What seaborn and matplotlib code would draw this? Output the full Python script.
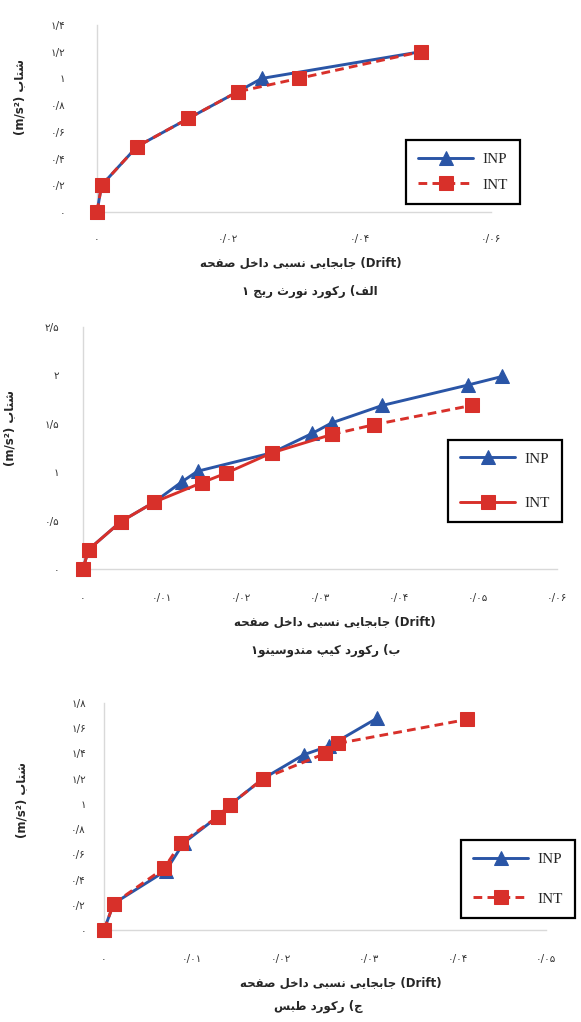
import matplotlib
matplotlib.use("Agg")
import matplotlib.pyplot as plt
import seaborn as sns

# ---------------- data ----------------
# (a) Northridge record
nr_inp_drift = [0, 0.0007, 0.0061, 0.0139, 0.0214, 0.0251, 0.0493]
nr_inp_acc = [0, 0.20, 0.49, 0.70, 0.90, 1.00, 1.20]
nr_int_drift = [0, 0.0007, 0.0061, 0.0139, 0.0214, 0.0307, 0.0493]
nr_int_acc = [0, 0.20, 0.49, 0.70, 0.90, 1.00, 1.20]

# (b) Cape Mendocino record
cm_inp_drift = [0, 0.0007, 0.0048, 0.0090, 0.0125, 0.0145, 0.0239, 0.0290, 0.0315, 0.0379, 0.0487, 0.0531]
cm_inp_acc = [0, 0.20, 0.49, 0.69, 0.90, 1.01, 1.20, 1.40, 1.51, 1.69, 1.90, 1.99]
cm_int_drift = [0, 0.0007, 0.0048, 0.0090, 0.0150, 0.0181, 0.0239, 0.0315, 0.0368, 0.0492]
cm_int_acc = [0, 0.20, 0.49, 0.69, 0.89, 0.99, 1.20, 1.39, 1.49, 1.69]

# (c) Tabas record
tb_inp_drift = [0, 0.0011, 0.0070, 0.0090, 0.0129, 0.0142, 0.0180, 0.0226, 0.0255, 0.0309]
tb_inp_acc = [0, 0.21, 0.47, 0.69, 0.90, 0.99, 1.20, 1.39, 1.46, 1.68]
tb_int_drift = [0, 0.0011, 0.0068, 0.0087, 0.0129, 0.0142, 0.0180, 0.0250, 0.0265, 0.0411]
tb_int_acc = [0, 0.21, 0.49, 0.69, 0.90, 0.99, 1.20, 1.40, 1.48, 1.67]

nr_xticks = [0, 0.02, 0.04, 0.06]
nr_yticks = [0, 0.2, 0.4, 0.6, 0.8, 1, 1.2, 1.4]
cm_xticks = [0, 0.01, 0.02, 0.03, 0.04, 0.05, 0.06]
cm_yticks = [0, 0.5, 1, 1.5, 2, 2.5]
tb_xticks = [0, 0.01, 0.02, 0.03, 0.04, 0.05]
tb_yticks = [0, 0.2, 0.4, 0.6, 0.8, 1, 1.2, 1.4, 1.6, 1.8]

xlabel_fa = "جابجایی نسبی داخل صفحه"
ylabel_fa = "شتاب"
captions = ["الف) رکورد نورث ریج ۱", "ب) رکورد کیپ مندوسینو۱", "ج) رکورد طبس"]

# ---------------- Persian shaping helpers ----------------
# isolated, final, initial, medial presentation forms
FORMS = {
    "ا": ("\uFE8D", "\uFE8E", None, None),
    "ب": ("\uFE8F", "\uFE90", "\uFE91", "\uFE92"),
    "پ": ("\uFB56", "\uFB57", "\uFB58", "\uFB59"),
    "ت": ("\uFE95", "\uFE96", "\uFE97", "\uFE98"),
    "ث": ("\uFE99", "\uFE9A", "\uFE9B", "\uFE9C"),
    "ج": ("\uFE9D", "\uFE9E", "\uFE9F", "\uFEA0"),
    "ح": ("\uFEA1", "\uFEA2", "\uFEA3", "\uFEA4"),
    "خ": ("\uFEA5", "\uFEA6", "\uFEA7", "\uFEA8"),
    "د": ("\uFEA9", "\uFEAA", None, None),
    "ر": ("\uFEAD", "\uFEAE", None, None),
    "ز": ("\uFEAF", "\uFEB0", None, None),
    "س": ("\uFEB1", "\uFEB2", "\uFEB3", "\uFEB4"),
    "ش": ("\uFEB5", "\uFEB6", "\uFEB7", "\uFEB8"),
    "ص": ("\uFEB9", "\uFEBA", "\uFEBB", "\uFEBC"),
    "ط": ("\uFEC1", "\uFEC2", "\uFEC3", "\uFEC4"),
    "ف": ("\uFED1", "\uFED2", "\uFED3", "\uFED4"),
    "ک": ("\uFB8E", "\uFB8F", "\uFB90", "\uFB91"),
    "گ": ("\uFB92", "\uFB93", "\uFB94", "\uFB95"),
    "ل": ("\uFEDD", "\uFEDE", "\uFEDF", "\uFEE0"),
    "م": ("\uFEE1", "\uFEE2", "\uFEE3", "\uFEE4"),
    "ن": ("\uFEE5", "\uFEE6", "\uFEE7", "\uFEE8"),
    "و": ("\uFEED", "\uFEEE", None, None),
    "ه": ("\uFEE9", "\uFEEA", "\uFEEB", "\uFEEC"),
    "ی": ("\uFBFC", "\uFBFD", "\uFBFE", "\uFBFF"),
}
MIRROR = {"(": ")", ")": "("}


def shape_rtl(text):
    """Contextual letter forms, then the whole run laid out right-to-left."""
    out = []
    n = len(text)
    for i, ch in enumerate(text):
        if ch not in FORMS:
            out.append(MIRROR.get(ch, ch))
            continue
        iso, fin, ini, med = FORMS[ch]
        prev = text[i - 1] if i > 0 else None
        nxt = text[i + 1] if i < n - 1 else None
        join_prev = prev in FORMS and FORMS[prev][2] is not None
        join_next = ini is not None and nxt in FORMS
        if join_prev and join_next:
            out.append(med)
        elif join_prev:
            out.append(fin)
        elif join_next:
            out.append(ini)
        else:
            out.append(iso)
    return "".join(reversed(out))


FA_DIGITS = str.maketrans("0123456789", "۰۱۲۳۴۵۶۷۸۹")


def fa_num(v):
    s = f"{v:g}".replace(".", "/")
    return s.translate(FA_DIGITS)


# ---------------- figure ----------------
sns.set_theme(style="white")
plt.rcParams["font.family"] = ["DejaVu Sans"]

W, H = 581, 1022
fig = plt.figure(figsize=(W / 100, H / 100), dpi=100)
fig.patch.set_facecolor("white")

BLUE = "#2A55A6"
RED = "#D8302A"
AXIS_GRAY = "#D9D9D9"


def px_axes(x0, x1, y_bottom, y_top):
    return fig.add_axes([x0 / W, 1 - y_bottom / H, (x1 - x0) / W, (y_bottom - y_top) / H])


def style_axes(ax, xticks, yticks, xpad, ypad):
    ax.set_xlim(xticks[0], xticks[-1])
    ax.set_ylim(yticks[0], yticks[-1])
    ax.set_xticks(xticks)
    ax.set_yticks(yticks)
    ax.set_xticklabels([fa_num(v) for v in xticks])
    ax.set_yticklabels([fa_num(v) for v in yticks])
    ax.tick_params(axis="x", length=0, pad=xpad, labelsize=7.5, colors="#333333")
    ax.tick_params(axis="y", length=0, pad=ypad, labelsize=7.5, colors="#333333")
    for s in ["top", "right"]:
        ax.spines[s].set_visible(False)
    for s in ["left", "bottom"]:
        ax.spines[s].set_color(AXIS_GRAY)
        ax.spines[s].set_linewidth(1.0)
        ax.spines[s].set_zorder(0)
    ax.set_xlabel("")
    ax.set_ylabel("")
    ax.patch.set_alpha(0)


def draw_inp(ax, x, y):
    sns.lineplot(x=x, y=y, ax=ax, color=BLUE, linewidth=2.1, marker="^",
                 markersize=10, markeredgecolor=BLUE, estimator=None, sort=False,
                 label="INP", clip_on=False, zorder=3)


def draw_int(ax, x, y, dashed=True, label=True):
    sns.lineplot(x=x, y=y, ax=ax, color=RED, linewidth=2.1, marker="s",
                 markersize=10.5, markeredgecolor=RED, estimator=None, sort=False,
                 linestyle=(0, (3.0, 1.8)) if dashed else "-",
                 label="INT" if label else None, clip_on=False, zorder=4)


def place_legend(ax, cx, cy, spacing):
    handles, labels = ax.get_legend_handles_labels()
    leg = ax.legend(handles, labels, loc="center",
                    bbox_to_anchor=(cx / W, 1 - cy / H), bbox_transform=fig.transFigure,
                    frameon=True, fancybox=False, framealpha=1, edgecolor="black",
                    prop={"family": "Liberation Serif", "size": 11},
                    handlelength=3.6, handletextpad=0.6, labelspacing=spacing,
                    borderpad=0.8)
    leg.get_frame().set_linewidth(1.6)
    return leg


def fig_text(x, y, s, size, **kw):
    fig.text(x / W, 1 - y / H, s, ha="center", va="center", fontsize=size, **kw)


xlabel_text = shape_rtl(xlabel_fa) + " (Drift)"
ylabel_text = "(m/s²) " + shape_rtl(ylabel_fa)

# ---- (a) ----
ax1 = px_axes(97, 491, 212, 25)
draw_inp(ax1, nr_inp_drift, nr_inp_acc)
draw_int(ax1, nr_int_drift, nr_int_acc, dashed=True)
style_axes(ax1, nr_xticks, nr_yticks, xpad=16, ypad=23)
place_legend(ax1, 463, 172, 0.8)
fig_text(301, 263, xlabel_text, 8.5, fontweight="bold")
fig_text(310, 291, shape_rtl(captions[0]), 8.5, fontweight="bold")
fig_text(20, 97, ylabel_text, 8.5, rotation=90, fontweight="bold")

# ---- (b) ----
ax2 = px_axes(83, 557, 569, 327)
draw_inp(ax2, cm_inp_drift, cm_inp_acc)
draw_int(ax2, cm_int_drift[:8], cm_int_acc[:8], dashed=False)
draw_int(ax2, cm_int_drift[7:], cm_int_acc[7:], dashed=True, label=False)
style_axes(ax2, cm_xticks, cm_yticks, xpad=17, ypad=17)
place_legend(ax2, 505, 481, 2.0)
fig_text(335, 622, xlabel_text, 8.5, fontweight="bold")
fig_text(326, 650, shape_rtl(captions[1]), 8.5, fontweight="bold")
fig_text(10, 428, ylabel_text, 8.5, rotation=90, fontweight="bold")

# ---- (c) ----
ax3 = px_axes(104, 546, 930, 703)
draw_inp(ax3, tb_inp_drift, tb_inp_acc)
draw_int(ax3, tb_int_drift, tb_int_acc, dashed=True)
style_axes(ax3, tb_xticks, tb_yticks, xpad=17, ypad=13)
place_legend(ax3, 518, 879, 1.7)
fig_text(341, 983, xlabel_text, 8.5, fontweight="bold")
fig_text(318, 1006, shape_rtl(captions[2]), 8.5, fontweight="bold")
fig_text(22, 800, ylabel_text, 8.5, rotation=90, fontweight="bold")

fig.savefig("out.png", dpi=100, facecolor="white")
